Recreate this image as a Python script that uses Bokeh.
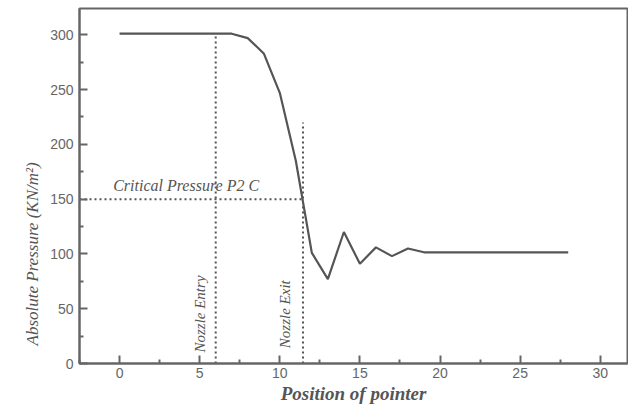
import math
from bokeh.plotting import figure
from bokeh.models import Range1d, Label, FixedTicker, Title
from bokeh.embed import file_html
from bokeh.resources import INLINE

# Data
position = [0, 1, 2, 3, 4, 5, 6, 7, 8, 9, 10, 11, 12, 13, 14, 15, 16, 17, 18, 19, 20, 21, 22, 23, 24, 25, 26, 27, 28]
pressure = [301, 301, 301, 301, 301, 301, 301, 301, 297, 283, 247, 185, 101, 77, 120, 91, 106, 98, 105, 101.5, 101.5, 101.5, 101.5, 101.5, 101.5, 101.5, 101.5, 101.5, 101.5]

nozzle_entry_x = [6, 6]
nozzle_entry_y = [0, 299]
nozzle_exit_x = [11.45, 11.45]
nozzle_exit_y = [0, 220]
critical_x = [-2.5, 11.45]
critical_y = [150, 150]

x_ticks = [0, 5, 10, 15, 20, 25, 30]
y_ticks = [0, 50, 100, 150, 200, 250, 300]

GRAY = "#555555"
AXIS = "#666666"
SERIF = "Liberation Serif"

p = figure(width=628, height=407, output_backend="svg", toolbar_location=None,
           x_range=Range1d(-2.5, 31.7), y_range=Range1d(0, 324),
           min_border_left=79, min_border_right=1, min_border_top=8, min_border_bottom=44)
p.background_fill_color = "white"
p.border_fill_color = "white"
p.grid.visible = False
p.outline_line_color = AXIS
p.outline_line_width = 2

for ax in (p.xaxis[0], p.yaxis[0]):
    ax.axis_line_color = AXIS
    ax.axis_line_width = 2
    ax.major_tick_line_color = AXIS
    ax.minor_tick_line_color = AXIS
    ax.major_tick_line_width = 2
    ax.minor_tick_line_width = 2
    ax.major_tick_in = 8
    ax.major_tick_out = 0
    ax.minor_tick_in = 4
    ax.minor_tick_out = 0
    ax.major_label_text_font = "Liberation Sans"
    ax.major_label_text_font_size = "14px"
    ax.major_label_text_color = "#666666"

p.xaxis.ticker = FixedTicker(ticks=x_ticks, minor_ticks=[v + 2.5 for v in [-5] + x_ticks])
p.yaxis.ticker = FixedTicker(ticks=y_ticks, minor_ticks=[v + 25 for v in y_ticks])
p.xaxis.major_label_standoff = 4
p.yaxis.major_label_standoff = 6

p.xaxis.axis_label = "Position of pointer"
p.xaxis.axis_label_text_font = SERIF
p.xaxis.axis_label_text_font_style = "bold italic"
p.xaxis.axis_label_text_font_size = "19px"
p.xaxis.axis_label_text_color = GRAY
p.xaxis.axis_label_standoff = 2

# y-axis title, placed low on the left side as in the reference
p.add_layout(Title(text="Absolute Pressure (KN/m²)", align="left", offset=18,
                   text_font=SERIF, text_font_style="italic", text_font_size="17px",
                   text_color=GRAY, standoff=12), "left")

# dotted reference lines
p.line(nozzle_entry_x, nozzle_entry_y, line_color=GRAY, line_width=2, line_dash="2 3")
p.line(nozzle_exit_x, nozzle_exit_y, line_color=GRAY, line_width=2, line_dash="2 3")
p.line(critical_x, critical_y, line_color=GRAY, line_width=2, line_dash="2 3")

# main curve
p.line(position, pressure, line_color=GRAY, line_width=2.2)

p.add_layout(Label(x=-0.4, y=155, text="Critical Pressure P2 C", text_font=SERIF,
                   text_font_style="italic", text_font_size="16px", text_color=GRAY,
                   text_baseline="bottom"))
p.add_layout(Label(x=5.5, y=10, text="Nozzle  Entry", text_font=SERIF, angle=math.pi / 2,
                   text_font_style="italic", text_font_size="15px", text_color=GRAY,
                   text_baseline="bottom", text_align="left"))
p.add_layout(Label(x=10.85, y=14, text="Nozzle Exit", text_font=SERIF, angle=math.pi / 2,
                   text_font_style="italic", text_font_size="15px", text_color=GRAY,
                   text_baseline="bottom", text_align="left"))

open("out.html", "w").write(file_html(p, INLINE))
